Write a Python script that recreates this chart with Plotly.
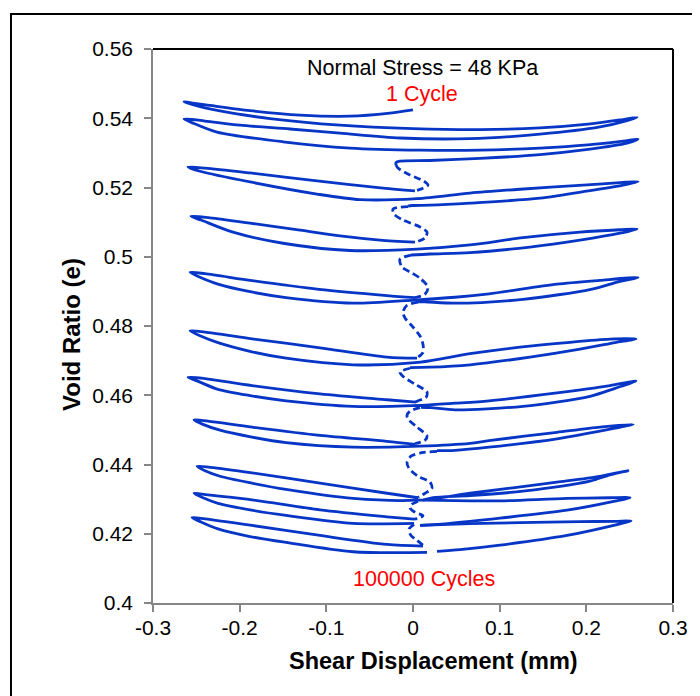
import plotly.graph_objects as go

# ---------------- data (shear displacement mm, void ratio e) ----------------
s1_x = [0.000, -0.0265, -0.0727, -0.1304, -0.1881, -0.2342, -0.2573, -0.2642, -0.255, -0.2227, -0.165, -0.0842, 0.000, 0.0773, 0.1465, 0.2019, 0.2388, 0.2585, 0.2469, 0.2158, 0.1465, 0.0658, -0.015, -0.0842, -0.1419, -0.1996, -0.2400, -0.2642, -0.2538, -0.2262, -0.15, -0.0727, 0.0081, 0.0773, 0.1465, 0.2019, 0.2423, 0.2596, 0.2469, 0.2019, 0.1465, 0.0773, 0.0196, -0.015, -0.0196, -0.0196]
s1_y = [0.5424, 0.5415, 0.5406, 0.5409, 0.5422, 0.5437, 0.5445, 0.5448, 0.5440, 0.5421, 0.5399, 0.5380, 0.5370, 0.5367, 0.5372, 0.5383, 0.5395, 0.5403, 0.5393, 0.5375, 0.5354, 0.5341, 0.5343, 0.5357, 0.5369, 0.5380, 0.5392, 0.5398, 0.5386, 0.5360, 0.5332, 0.5314, 0.5308, 0.5308, 0.5314, 0.5323, 0.5334, 0.5340, 0.5328, 0.5310, 0.5295, 0.5284, 0.5278, 0.5276, 0.5272, 0.5265]

d1_x = [-0.0196, -0.0173, -0.0035, 0.0115, 0.0173, 0.0115, 0.0023]
d1_y = [0.5265, 0.5256, 0.5236, 0.5220, 0.5207, 0.5198, 0.5190]

s2_x = [0.0023, -0.0346, -0.1108, -0.1881, -0.2400, -0.2596, -0.2458, -0.1881, -0.1108, -0.0612, 0.0046, 0.0658, 0.1235, 0.1962, 0.2388, 0.2596, 0.2423, 0.2019, 0.1465, 0.0658, 0.0196, -0.0012, -0.0058]
s2_y = [0.5190, 0.5198, 0.5219, 0.5242, 0.5256, 0.5259, 0.5247, 0.5216, 0.5181, 0.5165, 0.5168, 0.5184, 0.5195, 0.5207, 0.5214, 0.5217, 0.5207, 0.5190, 0.5169, 0.5155, 0.5149, 0.5148, 0.5146]

d2_x = [-0.0058, -0.0231, -0.0219, -0.0115, 0.0081, 0.0162, 0.0138, 0.0023]
d2_y = [0.5145, 0.5138, 0.5123, 0.5106, 0.5086, 0.5071, 0.5054, 0.5042]

s3_x = [0.0023, -0.0381, -0.0842, -0.1304, -0.1881, -0.2342, -0.2562, -0.2446, -0.2077, -0.15, -0.0727, 0.0046, 0.0658, 0.1269, 0.1927, 0.2388, 0.2585, 0.2388, 0.1927, 0.135, 0.0658, 0.0196, -0.0023]
s3_y = [0.5042, 0.5048, 0.5060, 0.5077, 0.5097, 0.5112, 0.5117, 0.5106, 0.5071, 0.5039, 0.5018, 0.5022, 0.5034, 0.5055, 0.5071, 0.5078, 0.5080, 0.5068, 0.5048, 0.5028, 0.5012, 0.5008, 0.5005]

d3_x = [-0.0023, -0.015, -0.0127, -0.0012, 0.0081, 0.0173, 0.0138, 0.0023]
d3_y = [0.5005, 0.4993, 0.4970, 0.4953, 0.4938, 0.4912, 0.4892, 0.4882]

s4_x = [0.0023, -0.03, -0.1085, -0.1858, -0.24, -0.2573, -0.2458, -0.225, -0.1881, -0.1465, -0.0692, 0.0012, 0.0485, 0.0877, 0.1661, 0.2158, 0.2596, 0.2388, 0.2054, 0.1269, 0.0485, 0.0138, 0.0058]
s4_y = [0.4882, 0.4888, 0.4906, 0.4931, 0.4951, 0.4955, 0.4941, 0.4921, 0.4899, 0.4882, 0.4866, 0.4875, 0.4883, 0.4893, 0.4921, 0.4932, 0.4940, 0.4929, 0.4906, 0.4877, 0.4866, 0.4870, 0.4870]

d4_x = [0.0058, -0.0069, -0.0115, -0.0092, 0.0, 0.0081, 0.0115, 0.0115, 0.0046]
d4_y = [0.4869, 0.4860, 0.4840, 0.4823, 0.4797, 0.4771, 0.4747, 0.4724, 0.4708]

s5_x = [0.0046, -0.03, -0.1073, -0.1858, -0.24, -0.2573, -0.2458, -0.225, -0.1881, -0.1465, -0.0692, 0.0058, 0.0658, 0.1235, 0.1812, 0.2273, 0.2573, 0.2331, 0.1927, 0.135, 0.0658, 0.0196, -0.0035]
s5_y = [0.4707, 0.4710, 0.4737, 0.4763, 0.4782, 0.4786, 0.4772, 0.4752, 0.4727, 0.4707, 0.4688, 0.4695, 0.4720, 0.4739, 0.4753, 0.4762, 0.4763, 0.4752, 0.4733, 0.4710, 0.4688, 0.4681, 0.4680]

d5_x = [-0.0035, -0.015, -0.0104, 0.0023, 0.0162, 0.015, 0.0058, 0.0023]
d5_y = [0.4678, 0.4667, 0.4652, 0.4632, 0.4609, 0.4594, 0.4584, 0.4580]

s6_x = [0.0035, -0.03, -0.1073, -0.1858, -0.24, -0.2596, -0.2458, -0.225, -0.1881, -0.1465, -0.0692, 0.0092, 0.0485, 0.0877, 0.1661, 0.2273, 0.2573, 0.2331, 0.2042, 0.1269, 0.0485, 0.0208, 0.0092]
s6_y = [0.4580, 0.4587, 0.4604, 0.4628, 0.4648, 0.4652, 0.4638, 0.4617, 0.4599, 0.4584, 0.4568, 0.4571, 0.4577, 0.4584, 0.4607, 0.4628, 0.4641, 0.4620, 0.4597, 0.4568, 0.4558, 0.4564, 0.4565]

d6_x = [0.0081, -0.0035, -0.0069, -0.0058, 0.0046, 0.0162, 0.0138, 0.0023]
d6_y = [0.4564, 0.4554, 0.4542, 0.4531, 0.4508, 0.4482, 0.4470, 0.4460]

s7_x = [0.0023, -0.03, -0.1073, -0.1858, -0.2365, -0.2527, -0.2423, -0.2227, -0.1858, -0.1465, -0.0692, 0.0081, 0.0658, 0.0877, 0.1661, 0.2158, 0.254, 0.2331, 0.1661, 0.0877, 0.0485, 0.0277]
s7_y = [0.4458, 0.4467, 0.4484, 0.4508, 0.4525, 0.4529, 0.4516, 0.4499, 0.4479, 0.4463, 0.4450, 0.4453, 0.4461, 0.4469, 0.4493, 0.4508, 0.4516, 0.4505, 0.4474, 0.4450, 0.4441, 0.4440]

d7_x = [0.0277, 0.0104, -0.0023, -0.0069, -0.0046, 0.0058, 0.0196, 0.0219, 0.0138, 0.0058]
d7_y = [0.4438, 0.4434, 0.4424, 0.4406, 0.4389, 0.4366, 0.4349, 0.4331, 0.4317, 0.4305]

s8_x = [0.0058, -0.03, -0.1073, -0.1858, -0.2342, -0.2492, -0.24, -0.2227, -0.1858, -0.1465, -0.0692, 0.0058, 0.0658, 0.1661, 0.2158, 0.2481, 0.2273, 0.2042, 0.1269, 0.0658, 0.0231, 0.0115]
s8_y = [0.4304, 0.4317, 0.4346, 0.4376, 0.4392, 0.4395, 0.4382, 0.4366, 0.4346, 0.4328, 0.4302, 0.4297, 0.4317, 0.4349, 0.4366, 0.4382, 0.4370, 0.4352, 0.4323, 0.4310, 0.4304, 0.4297]

r9_x = [0.0115, 0.0658, 0.1004, 0.1777, 0.2273, 0.2504, 0.2331, 0.1777, 0.1004, 0.0427, 0.0081]
r9_y = [0.4297, 0.4295, 0.4295, 0.4302, 0.4304, 0.4304, 0.4294, 0.4268, 0.4245, 0.4230, 0.4224]

r10_x = [0.0081, 0.0658, 0.1235, 0.1927, 0.2331, 0.2516, 0.2365, 0.1777, 0.1004, 0.0542, 0.0277]
r10_y = [0.4224, 0.4229, 0.4232, 0.4235, 0.4236, 0.4237, 0.4227, 0.4195, 0.4167, 0.4154, 0.4149]

d8_x = [0.0058, -0.0012, -0.0035, 0.0023, 0.0115, 0.0069, 0.0012]
d8_y = [0.4294, 0.4285, 0.4275, 0.4262, 0.4252, 0.4245, 0.4242]

s9_x = [0.0012, -0.03, -0.1073, -0.1858, -0.2365, -0.2527, -0.2423, -0.225, -0.1881, -0.1465, -0.0692, 0.0012]
s9_y = [0.4242, 0.4249, 0.4269, 0.4298, 0.4312, 0.4317, 0.4304, 0.4288, 0.4269, 0.4253, 0.4230, 0.4230]

d9_x = [0.0012, -0.0046, -0.0023, 0.0046, 0.0115]
d9_y = [0.4227, 0.4213, 0.4195, 0.4181, 0.4167]

s10_x = [0.0115, -0.03, -0.1073, -0.1858, -0.24, -0.255, -0.2446, -0.225, -0.1881, -0.1465, -0.0692, 0.0162]
s10_y = [0.4164, 0.4169, 0.4195, 0.4224, 0.4243, 0.4247, 0.4234, 0.4214, 0.4192, 0.4175, 0.4148, 0.4146]

x_ticks = [-0.3, -0.2, -0.1, 0.0, 0.1, 0.2, 0.3]
x_labels = ["-0.3", "-0.2", "-0.1", "0", "0.1", "0.2", "0.3"]
y_ticks = [0.40, 0.42, 0.44, 0.46, 0.48, 0.50, 0.52, 0.54, 0.56]
y_labels = ["0.4", "0.42", "0.44", "0.46", "0.48", "0.5", "0.52", "0.54", "0.56"]

# ---------------- figure ----------------
BLUE = "#0736C6"
FONT = "Liberation Sans, Arial, sans-serif"

solid = [(s1_x, s1_y), (s2_x, s2_y), (s3_x, s3_y), (s4_x, s4_y), (s5_x, s5_y),
         (s6_x, s6_y), (s7_x, s7_y), (s8_x, s8_y), (r9_x, r9_y), (r10_x, r10_y),
         (s9_x, s9_y), (s10_x, s10_y)]
dashed = [(d1_x, d1_y), (d2_x, d2_y), (d3_x, d3_y), (d4_x, d4_y), (d5_x, d5_y),
          (d6_x, d6_y), (d7_x, d7_y), (d8_x, d8_y), (d9_x, d9_y)]

fig = go.Figure()
for xs, ys in solid:
    fig.add_trace(go.Scatter(x=xs, y=ys, mode="lines",
                             line=dict(color=BLUE, width=2.8, shape="spline", smoothing=0.8),
                             hoverinfo="skip", showlegend=False))
for xs, ys in dashed:
    fig.add_trace(go.Scatter(x=xs, y=ys, mode="lines",
                             line=dict(color=BLUE, width=2.8, shape="spline", smoothing=0.8,
                                       dash="7px,4px"),
                             hoverinfo="skip", showlegend=False))

axis_common = dict(showgrid=False, zeroline=False, showline=True, linecolor="#868686",
                   linewidth=1.5, ticks="outside", ticklen=7, tickwidth=1.5,
                   tickcolor="#868686", tickfont=dict(family=FONT, size=21, color="#000000"))

fig.update_layout(
    width=692, height=688, autosize=False,
    margin=dict(l=145, r=27, t=41, b=93),
    paper_bgcolor="white", plot_bgcolor="white",
    font=dict(family=FONT),
    xaxis=dict(range=[-0.3, 0.3], tickvals=x_ticks, ticktext=x_labels,
               ticklabelstandoff=-2, **axis_common),
    yaxis=dict(range=[0.4, 0.56], tickvals=y_ticks, ticktext=y_labels,
               ticklabelstandoff=7, **axis_common),
    shapes=[
        dict(type="rect", xref="paper", yref="paper", x0=-0.2731, y0=-0.30, x1=1.2, y1=1.0632,
             line=dict(color="black", width=2), layer="below"),
        dict(type="line", xref="paper", yref="paper", x0=0, y0=1, x1=1, y1=1,
             line=dict(color="black", width=2)),
        dict(type="line", xref="paper", yref="paper", x0=1, y0=0, x1=1, y1=1,
             line=dict(color="black", width=2)),
    ],
    annotations=[
        dict(text="Normal Stress = 48 KPa", xref="paper", yref="paper", x=0.5192, y=0.9657,
             xanchor="center", yanchor="middle",
             showarrow=False, font=dict(family=FONT, size=21.5, color="black")),
        dict(text="1 Cycle", xref="paper", yref="paper", x=0.5173, y=0.9188,
             xanchor="center", yanchor="middle",
             showarrow=False, font=dict(family=FONT, size=21.5, color="#FF0000")),
        dict(text="100000 Cycles", xref="paper", yref="paper", x=0.5212, y=0.0433,
             xanchor="center", yanchor="middle",
             showarrow=False, font=dict(family=FONT, size=21.5, color="#FF0000")),
        dict(text="<b>Shear Displacement (mm)</b>", xref="paper", yref="paper", x=0.540, y=-0.1047,
             xanchor="center", yanchor="middle",
             showarrow=False, font=dict(family=FONT, size=23.5, color="black")),
        dict(text="<b>Void Ratio (e)</b>", xref="paper", yref="paper", x=-0.1558, y=0.4856,
             xanchor="center", yanchor="middle",
             textangle=-90, showarrow=False, font=dict(family=FONT, size=24, color="black")),
    ],
)

fig.write_html("out.html")
